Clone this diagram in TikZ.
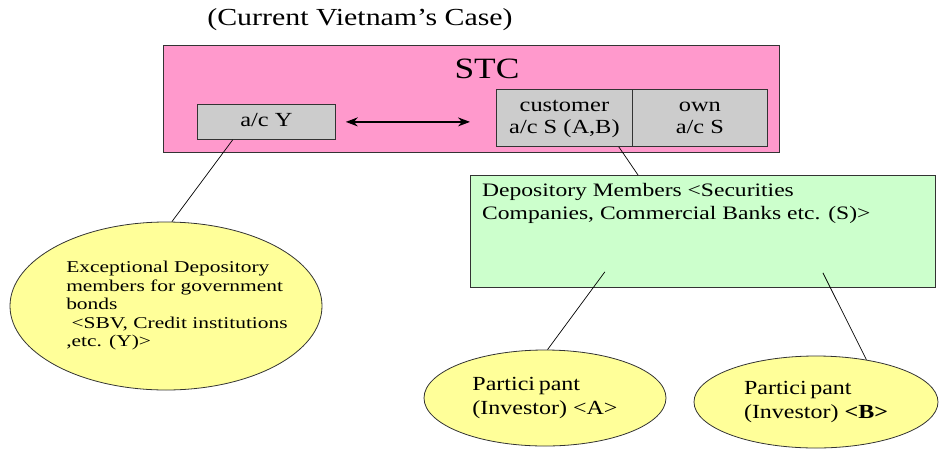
\documentclass[tikz,border=0pt]{standalone}
\usepackage{fontspec}
\setmainfont{Liberation Serif}
\usepackage{graphicx}
\usetikzlibrary{shapes.geometric,arrows.meta,calc}
\definecolor{stcpink}{HTML}{FF99CC}
\definecolor{acgray}{HTML}{CCCCCC}
\definecolor{dmgreen}{HTML}{CCFFCC}
\definecolor{ovyellow}{HTML}{FFFF99}
\newcommand{\sxl}[2]{\scalebox{#1}[1]{\begin{tabular}{@{}l@{}}#2\end{tabular}}}
\newcommand{\sxc}[2]{\scalebox{#1}[1]{\begin{tabular}{@{}c@{}}#2\end{tabular}}}
\begin{document}
\begin{tikzpicture}[x=1pt,y=-1pt,
  outline/.style={draw=black!80, line width=0.8pt},
  acbox/.style={outline, fill=acgray, inner sep=0pt, anchor=north west,
    font=\fontsize{20}{22}\selectfont},
  oval/.style={outline, fill=ovyellow, ellipse, inner sep=0pt},
  conn/.style={draw=black, line width=0.7pt}]
\useasboundingbox (0,0) rectangle (940,448);

\node (title) at (360,20) {\fontsize{24.5}{28}\selectfont\scalebox{1.22}[1]{(Current Vietnam’s Case)}};

\node[outline, fill=stcpink, anchor=north west, inner sep=0pt,
      minimum width=616pt, minimum height=107pt] (stc) at (163,45) {};
\node (stct) at (487,69) {\fontsize{29.5}{33}\selectfont\scalebox{1.2}[1]{STC}};

\node[acbox, minimum width=138pt, minimum height=35pt] (acy) at (197,104)
  {\sxc{1.22}{a/c Y}};
\node[acbox, minimum width=136pt, minimum height=57pt] (cust) at (496,89)
  {\sxc{1.22}{customer\\a/c S (A,B)}};
\node[acbox, minimum width=135pt, minimum height=57pt] (own) at (632,89)
  {\sxc{1.22}{own\\a/c S}};

\draw[line width=1.4pt, {Stealth[length=12pt,width=9pt]}-{Stealth[length=12pt,width=9pt]},
      shorten <=10pt, shorten >=26pt] (acy.east) -- (acy.east -| cust.west);

\node[outline, fill=dmgreen, anchor=north west, inner sep=0pt,
      minimum width=465pt, minimum height=112pt] (dm) at (470,175) {};
\node[anchor=north west, inner sep=0pt, font=\fontsize{19}{23}\selectfont] (dmt)
  at ($(dm.north west)+(12,5)$)
  {\sxl{1.24}{Depository Members <Securities\\Companies, Commercial Banks etc. (S)>}};

\node[oval, minimum width=312pt, minimum height=168pt,
      font=\fontsize{16.5}{18.5}\selectfont] (exc) at (166,306)
  {\makebox[0pt]{\hspace*{22pt}\sxl{1.3}{Exceptional Depository\\members for government\\bonds\\ \ <SBV, Credit institutions\\,etc. (Y)>}}};

\node[oval, minimum width=242pt, minimum height=96pt,
      font=\fontsize{20}{24}\selectfont] (pa) at (545,398)
  {\sxl{1.2}{Partici\kern3pt pant\\(Investor) <A>}};
\node[oval, minimum width=244pt, minimum height=92pt,
      font=\fontsize{20}{24}\selectfont] (pb) at (816,402)
  {\sxl{1.2}{Partici\kern3pt pant\\(Investor) \textbf{<B>}}};

\coordinate (dmA) at ($(dm.south)+(-98,-16)$);
\coordinate (dmB) at ($(dm.south)+(120,-15)$);

\draw[conn] (acy.208) -- (exc.86);
\draw[conn] (cust.-28.3) -- (dm.139.9);
\draw[conn] (dmA) -- (pa.87);
\draw[conn] (dmB) -- (pb.40);
\end{tikzpicture}
\end{document}
